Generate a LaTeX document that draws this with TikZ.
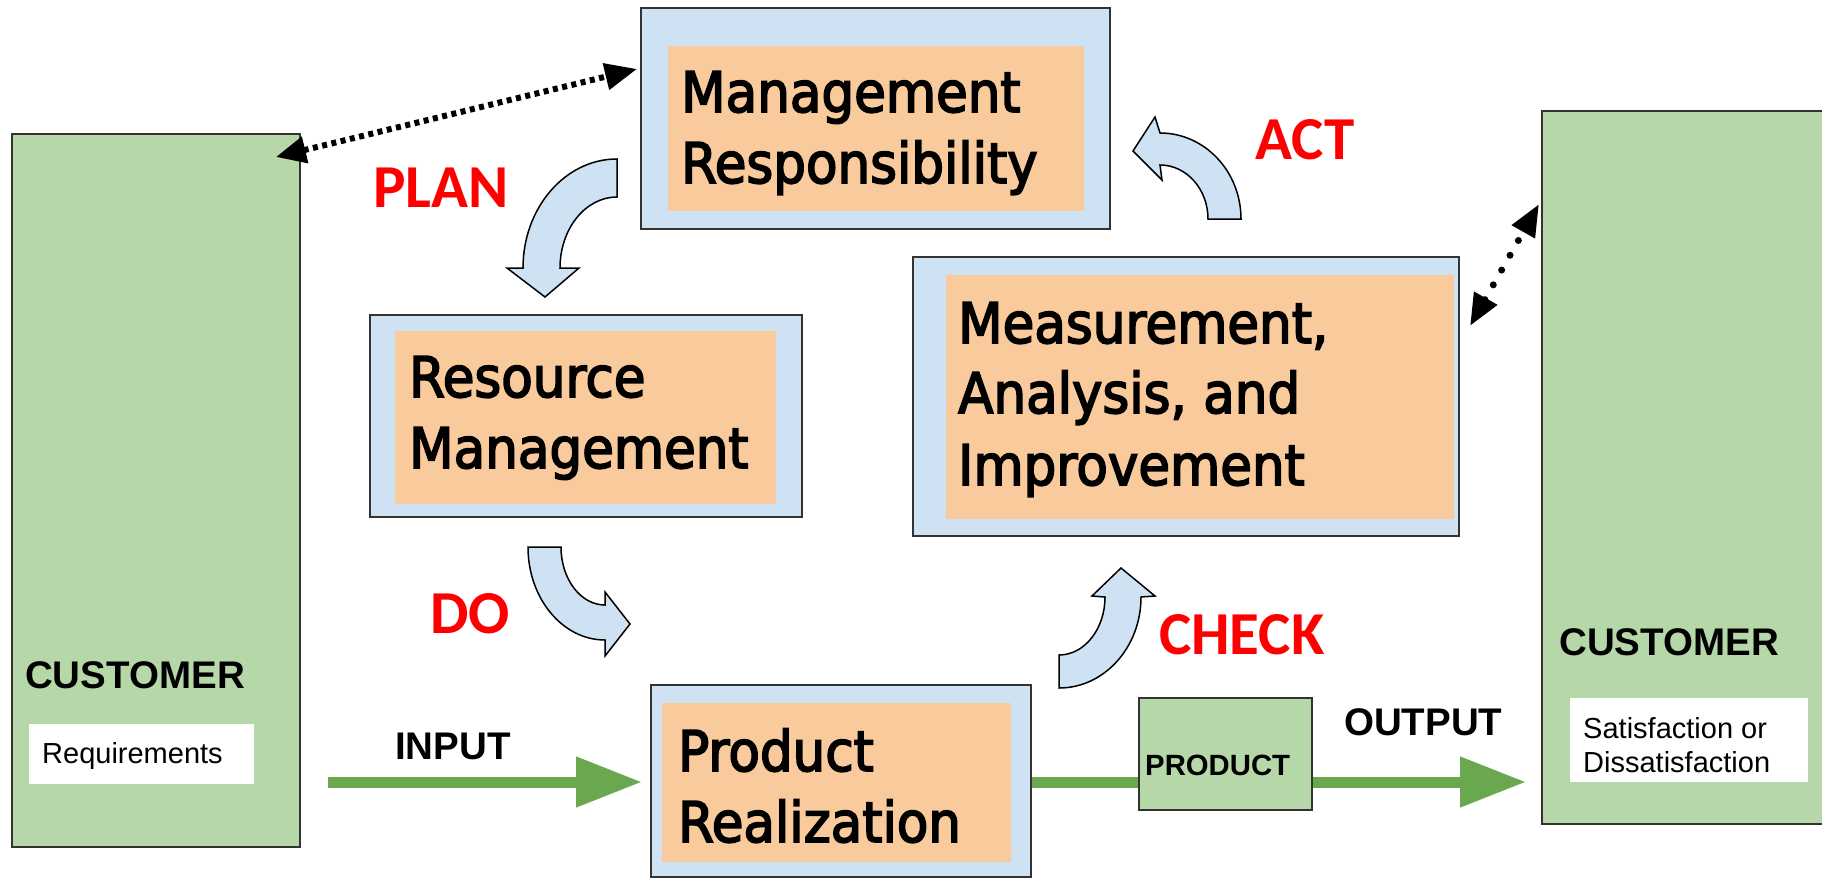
\documentclass[tikz,border=0pt]{standalone}
\usepackage{fontspec}
\usetikzlibrary{arrows.meta,calc}
\newfontfamily\boxfont[FakeStretch=0.92,FakeBold=3]{DejaVu Sans}
\newfontfamily\pdcafont{Carlito}
\newfontfamily\arialfont{Liberation Sans}
\definecolor{boxblue}{HTML}{CFE2F3}
\definecolor{boxorange}{HTML}{F9CB9C}
\definecolor{custgreen}{HTML}{B6D7A8}
\definecolor{flowgreen}{HTML}{6AA84F}
\definecolor{edgegray}{HTML}{333333}
\definecolor{pdcared}{HTML}{FF0000}

\begin{document}
\begin{tikzpicture}[x=1pt,y=-1pt,
  outerbox/.style={draw=edgegray, line width=2pt, fill=boxblue, inner sep=0pt},
  innerbox/.style={fill=boxorange, inner sep=0pt},
  custbox/.style={draw=edgegray, line width=2pt, fill=custgreen, inner sep=0pt},
  whitebox/.style={fill=white, inner sep=0pt},
  boxtext/.style={anchor=base west, inner sep=0pt, font=\boxfont\fontsize{56}{60}\selectfont},
  pdca/.style={anchor=base west, inner sep=0pt, text=pdcared, font=\pdcafont\bfseries\fontsize{61}{64}\selectfont},
  biglabel/.style={anchor=base west, inner sep=0pt, font=\arialfont\bfseries\fontsize{38.5}{40}\selectfont},
  smalllabel/.style={anchor=base west, inner sep=0pt, font=\arialfont\fontsize{29}{33}\selectfont},
  bendarrow/.style={draw=black, line width=1.5pt, fill=boxblue, line join=miter},
  flow/.style={draw=flowgreen, line width=11pt, -{Triangle[length=66pt,width=48pt]}},
  flowline/.style={draw=flowgreen, line width=11pt},
  squaredots/.style={line width=6pt, dash pattern=on 5pt off 4.5pt,
    {Triangle[length=30pt,width=26pt]}-{Triangle[length=32pt,width=26pt]}},
  rounddots/.style={line width=7pt, line cap=round, dash pattern=on 0pt off 17pt,
    {Triangle[length=32pt,width=25pt]}-{Triangle[length=32pt,width=25pt]}}
]
\useasboundingbox (0,0) rectangle (1822,878);

% customers
\node[custbox, minimum width=288pt, minimum height=713pt] (custL) at (156,490.5) {};
\node[custbox, minimum width=298pt, minimum height=713pt] (custR) at (1691,467.5) {};
\node[whitebox, minimum width=225pt, minimum height=60pt] (reqbox) at (141.5,754) {};
\node[whitebox, minimum width=238pt, minimum height=84pt] (satbox) at (1689,740) {};
\node[biglabel] (custLtxt) at (25,688) {CUSTOMER};
\node[biglabel] (custRtxt) at (1559,655) {CUSTOMER};
\node[smalllabel] (reqtxt) at (42,763) {Requirements};
\node[smalllabel] (sat1) at (1583,738) {Satisfaction or};
\node[smalllabel] (sat2) at (1583,772) {Dissatisfaction};

% process boxes
\node[outerbox, minimum width=469pt, minimum height=221pt] (mgmt) at (875.5,118.5) {};
\node[innerbox, minimum width=416pt, minimum height=165pt] (mgmtin) at (876,128.5) {};
\node[boxtext] (mgmt1) at (681,112) {Management};
\node[boxtext] (mgmt2) at (681,183) {Responsibility};

\node[outerbox, minimum width=432pt, minimum height=202pt] (res) at (586,416) {};
\node[innerbox, minimum width=381pt, minimum height=173pt] (resin) at (585.5,417.5) {};
\node[boxtext] (res1) at (409,397) {Resource};
\node[boxtext] (res2) at (409,468) {Management};

\node[outerbox, minimum width=546pt, minimum height=279pt] (meas) at (1186,396.5) {};
\node[innerbox, minimum width=508pt, minimum height=244pt] (measin) at (1200,397) {};
\node[boxtext] (meas1) at (958,343) {Measurement,};
\node[boxtext] (meas2) at (958,413) {Analysis, and};
\node[boxtext] (meas3) at (958,485) {Improvement};

\node[outerbox, minimum width=380pt, minimum height=192pt] (prod) at (841,781) {};
\node[innerbox, minimum width=349pt, minimum height=159pt] (prodin) at (836.5,782.5) {};
\node[boxtext] (prod1) at (678,771) {Product};
\node[boxtext] (prod2) at (678,842) {Realization};

\node[custbox, minimum width=173pt, minimum height=112pt] (prodbox) at (1225.5,754) {};
\node[anchor=base west, inner sep=0pt, font=\arialfont\bfseries\fontsize{29.3}{32}\selectfont] (prodtxt) at (1145,775) {PRODUCT};

% PDCA labels
\node[pdca] (plan) at (373,207) {PLAN};
\node[pdca] (act) at (1255,159) {ACT};
\node[pdca] (do) at (430,633) {DO};
\node[pdca] (check) at (1159,654) {CHECK};

% curved cycle arrows
\draw[bendarrow] (617,159) arc[start angle=270, end angle=180, x radius=94, y radius=109]
  -- (507,268) -- (545,297) -- (579,268) -- (560,268)
  arc[start angle=180, end angle=270, x radius=57, y radius=71] -- cycle;
\draw[bendarrow] (1241,219) arc[start angle=0, end angle=-90, x radius=81, y radius=86]
  -- (1155,117) -- (1133,151) -- (1162,180) -- (1160,165)
  arc[start angle=-90, end angle=0, x radius=48, y radius=54] -- cycle;
\draw[bendarrow] (528,547) arc[start angle=180, end angle=90, x radius=77, y radius=93]
  -- (605,656) -- (630,624) -- (605,592) -- (605,605)
  arc[start angle=90, end angle=180, x radius=44, y radius=58] -- cycle;
\draw[bendarrow] (1059,688) arc[start angle=90, end angle=0, x radius=82, y radius=91]
  -- (1155,596) -- (1121,568) -- (1092,596) -- (1105,597)
  arc[start angle=0, end angle=90, x radius=46, y radius=58] -- cycle;

% input / output flow
\coordinate (inStart) at (328,782);
\node[biglabel] (input) at (395,759) {INPUT};
\node[biglabel] (output) at (1344,735) {OUTPUT};
\draw[flow, shorten >=8pt] (inStart) -- (inStart -| prod.west);
\draw[flowline] (prod.east |- inStart) -- (prodbox.west |- inStart);
\draw[flow, shorten >=15pt] (prodbox.east |- inStart) -- (custR.west |- inStart);

% customer feedback links
\coordinate (fbL) at ($(custL.north east)+(-25,24)$);
\coordinate (fbM) at ($(mgmt.north west)+(-3,62)$);
\draw[squaredots] (fbL) -- (fbM);
\coordinate (fbA) at ($(meas.north east)+(10,70)$);
\coordinate (fbR) at ($(custR.north west)+(-2,94)$);
\draw[rounddots] (fbA) -- (fbR);
\end{tikzpicture}
\end{document}
